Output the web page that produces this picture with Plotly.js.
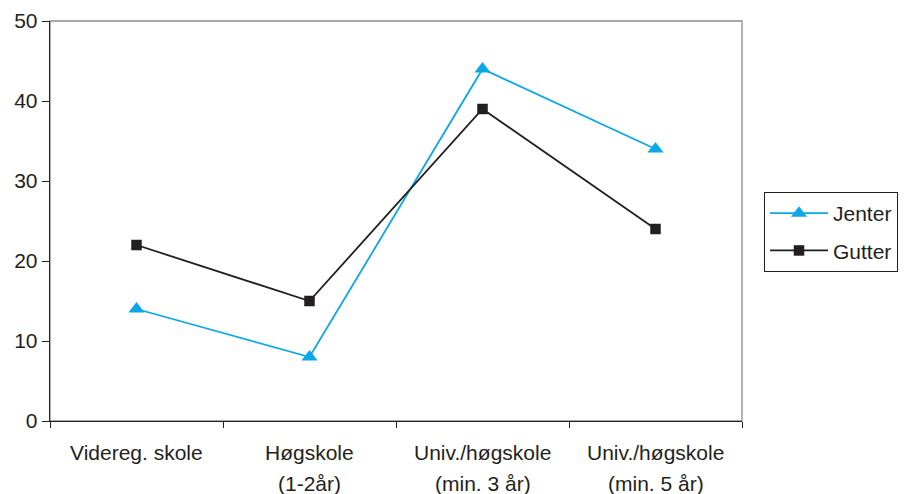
<!DOCTYPE html>
<html>
<head>
<meta charset="utf-8">
<script src="https://cdn.plot.ly/plotly-3.0.1.min.js"></script>
<style>
  html, body { margin: 0; padding: 0; background: #fff; }
  #chart { width: 905px; height: 494px; overflow: hidden; }
</style>
</head>
<body>
<div id="chart"></div>
<script>
// Education level categories (x axis)
const categories = ["Videreg. skole", "Høgskole (1-2år)", "Univ./høgskole (min. 3 år)", "Univ./høgskole (min. 5 år)"];
// Two-line category labels
const labelLine1 = ["Videreg. skole", "Høgskole", "Univ./høgskole", "Univ./høgskole"];
const labelLine2 = ["", "(1-2år)", "(min. 3 år)", "(min. 5 år)"];

// Percent per group
const jenter = [14, 8, 44, 34];
const gutter = [22, 15, 39, 24];

const yTicks = [0, 10, 20, 30, 40, 50];

const FONT = "Liberation Sans, Arial, sans-serif";
const FS = 21;
const TXT = "#231f20";
const BLUE = "#0aa8e6";

const traces = [
  {
    name: "Jenter", x: categories, y: jenter, type: "scatter", mode: "lines+markers",
    line: { color: BLUE, width: 1.8 },
    marker: { symbol: "triangle-up", size: 14, color: BLUE },
    legendgroup: "a"
  },
  {
    name: "Gutter", x: categories, y: gutter, type: "scatter", mode: "lines+markers",
    line: { color: TXT, width: 1.8 },
    marker: { symbol: "square", size: 10.5, color: TXT },
    legendgroup: "b"
  }
];

const annotations = [];
categories.forEach((c, i) => {
  annotations.push({
    x: c, y: 0, xref: "x", yref: "y", yanchor: "middle", xanchor: "center",
    text: labelLine1[i], showarrow: false, yshift: -31,
    font: { family: FONT, size: FS, color: TXT }
  });
  if (labelLine2[i]) {
    annotations.push({
      x: c, y: 0, xref: "x", yref: "y", yanchor: "middle", xanchor: "center",
      text: labelLine2[i], showarrow: false, yshift: -62,
      font: { family: FONT, size: FS, color: TXT }
    });
  }
});

const layout = {
  width: 905, height: 494,
  margin: { l: 50, r: 163, t: 21, b: 73, autoexpand: false },
  paper_bgcolor: "#fff", plot_bgcolor: "#fff",
  font: { family: FONT, size: FS, color: TXT },
  showlegend: true,
  xaxis: {
    type: "category",
    range: [-0.5, 3.5],
    showticklabels: false,
    ticks: "outside", tickson: "boundaries", ticklen: 6, tickcolor: TXT, tickwidth: 1,
    showline: true, linecolor: TXT, linewidth: 1.3,
    showgrid: false, zeroline: false, fixedrange: true
  },
  yaxis: {
    range: [0, 50],
    tickvals: yTicks,
    ticks: "outside", ticklen: 7, tickcolor: TXT, tickwidth: 1,
    showline: true, linecolor: TXT, linewidth: 1.3,
    showgrid: false, zeroline: false,
    tickfont: { family: FONT, size: FS, color: TXT }
  },
  shapes: [{
    type: "rect", xref: "paper", yref: "paper", x0: 0, x1: 1, y0: 0, y1: 1,
    line: { color: "#8c8c8c", width: 1.3 }, layer: "below"
  }],
  legend: {
    x: 1.0318, y: 0.5725, xanchor: "left", yanchor: "top",
    bordercolor: TXT, borderwidth: 1, bgcolor: "#fff",
    font: { family: FONT, size: FS, color: TXT },
    traceorder: "grouped", tracegroupgap: 7, itemwidth: 58
  },
  annotations: annotations
};

Plotly.newPlot("chart", traces, layout, { displayModeBar: false, staticPlot: true });
</script>
</body>
</html>
